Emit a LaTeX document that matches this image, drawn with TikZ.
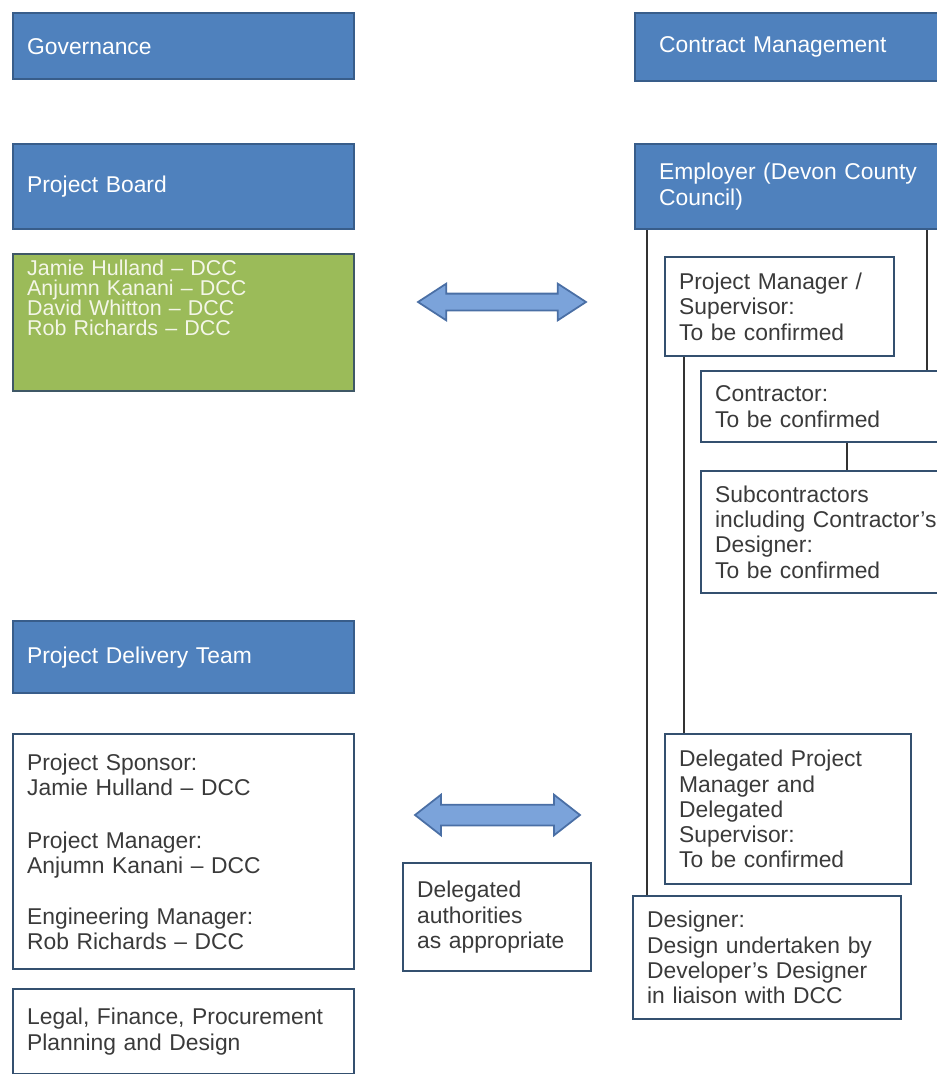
\documentclass[tikz,border=0pt]{standalone}
\usepackage{fontspec}
\setmainfont{Liberation Sans}
\usetikzlibrary{shapes.arrows}

\definecolor{headblue}{HTML}{4F81BD}
\definecolor{headline}{HTML}{385D8A}
\definecolor{boardgreen}{HTML}{9BBB59}
\definecolor{greenline}{HTML}{3F5866}
\definecolor{greentext}{HTML}{F4F6E8}
\definecolor{boxline}{HTML}{34506F}
\definecolor{textgray}{HTML}{3A3A3A}
\definecolor{arrowfill}{HTML}{7BA3DA}
\definecolor{arrowline}{HTML}{4A6FA5}

\tikzset{
  box/.style={draw=boxline, line width=1.3pt, anchor=north west, inner xsep=0.28cm,
    inner ysep=0pt, align=left, text=textgray, font=\fontsize{13}{14.4}\selectfont},
  head/.style={box, fill=headblue, draw=headline, text=white},
  headr/.style={head, inner xsep=0.48cm},
  members/.style={box, fill=boardgreen, draw=greenline, text=greentext,
    inner ysep=0.12cm, text depth=2.18cm, font=\fontsize{12.2}{11.4}\selectfont},
  fatarrow/.style={double arrow, draw=arrowline, fill=arrowfill, line width=1pt,
    inner xsep=0pt},
  link/.style={draw=black!80, line width=0.8pt}
}

\begin{document}
\begin{tikzpicture}
  \useasboundingbox (0,0) rectangle (18.72,-21.48);

  % left column
  \node[head, text width=6.26cm, minimum height=1.32cm] (gov) at (0.24,-0.24) {Governance};
  \node[head, text width=6.26cm, minimum height=1.70cm] (board) at (0.24,-2.86) {Project Board};
  \node[members, text width=6.26cm] (members) at (0.24,-5.06)
    {Jamie Hulland -- DCC\\Anjumn Kanani -- DCC\\David Whitton -- DCC\\Rob Richards -- DCC};
  \node[head, text width=6.26cm, minimum height=1.44cm] (pdt) at (0.24,-12.40) {Project Delivery Team};
  \node[box, text width=6.26cm, minimum height=4.70cm] (team) at (0.24,-14.66)
    {Project Sponsor:\\Jamie Hulland -- DCC\\[5.5mm]Project Manager:\\Anjumn Kanani -- DCC\\[5mm]Engineering Manager:\\Rob Richards -- DCC};
  \node[box, text width=6.26cm, minimum height=1.70cm] (legal) at (0.24,-19.76)
    {Legal, Finance, Procurement\\Planning and Design};

  % middle
  \node[fatarrow, minimum height=3.36cm, inner ysep=0.15cm,
    double arrow head extend=0.2cm, double arrow tip angle=66] (arr1) at (10.04,-6.04) {};
  \node[fatarrow, minimum height=3.30cm, inner ysep=0.19cm,
    double arrow head extend=0.2cm, double arrow tip angle=76] (arr2) at (9.95,-16.30) {};
  \node[box, text width=3.20cm, minimum height=2.16cm] (auth) at (8.04,-17.24)
    {Delegated\\authorities\\as appropriate};

  % right column
  \node[headr, text width=5.36cm, minimum height=1.36cm] (cman) at (12.68,-0.24) {Contract Management};
  \node[headr, text width=5.36cm, minimum height=1.70cm] (emp) at (12.68,-2.86) {Employer (Devon County\\Council)};
  \node[box, text width=4.02cm, minimum height=1.98cm] (pm) at (13.28,-5.12)
    {Project Manager /\\Supervisor:\\To be confirmed};
  \node[box, text width=4.44cm, minimum height=1.42cm] (con) at (14.00,-7.40)
    {Contractor:\\To be confirmed};
  \node[box, text width=4.44cm, minimum height=2.44cm] (sub) at (14.00,-9.40)
    {Subcontractors\\including Contractor's\\Designer:\\To be confirmed};
  \node[box, text width=4.36cm, minimum height=3.00cm] (dpm) at (13.28,-14.66)
    {Delegated Project\\Manager and\\Delegated\\Supervisor:\\To be confirmed};
  \node[box, text width=4.80cm, minimum height=2.46cm] (dsg) at (12.64,-17.90)
    {Designer:\\Design undertaken by\\Developer's Designer\\in liaison with DCC};

  % links
  \draw[link] ([xshift=0.26cm]emp.south west) -- ([xshift=0.26cm]emp.south west |- dsg.north);
  \draw[link] ([xshift=5.86cm]emp.south west) -- ([xshift=5.86cm]emp.south west |- con.north);
  \draw[link] ([xshift=0.40cm]pm.south west) -- ([xshift=0.40cm]pm.south west |- dpm.north);
  \draw[link] ([xshift=2.94cm]con.south west) -- ([xshift=2.94cm]con.south west |- sub.north);

\end{tikzpicture}
\end{document}
